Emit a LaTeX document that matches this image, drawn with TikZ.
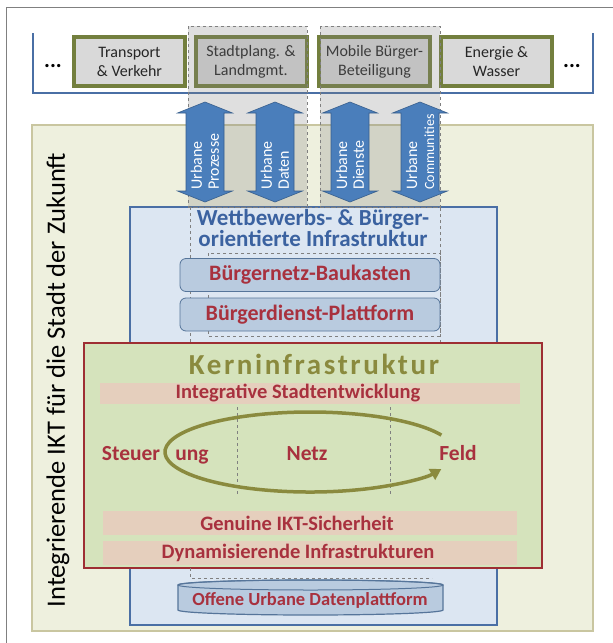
\documentclass[tikz,border=0pt]{standalone}
\usepackage{fontspec}
\setmainfont{Carlito}
\usetikzlibrary{arrows.meta,positioning}

\definecolor{frameblue}{HTML}{4A6FA5}
\definecolor{olivebox}{HTML}{737F3E}
\definecolor{boxgray}{HTML}{D9D9D9}
\definecolor{outerbeige}{HTML}{EEF0DE}
\definecolor{beigeline}{HTML}{C9C6A0}
\definecolor{infrablue}{HTML}{DCE6F2}
\definecolor{infratext}{HTML}{3B62A0}
\definecolor{arrowblue}{HTML}{4A7EBB}
\definecolor{kernfill}{HTML}{D5E3BC}
\definecolor{kernred}{HTML}{9E2E33}
\definecolor{textred}{HTML}{A8313E}
\definecolor{kernolive}{HTML}{8A8A3E}
\definecolor{bandpink}{HTML}{EBC9BE}
\definecolor{platblue}{HTML}{B9CBDF}
\definecolor{platline}{HTML}{56759A}

\tikzset{
  domainbox/.style={draw=olivebox,line width=4pt,fill=boxgray,minimum width=111pt,
    minimum height=49pt,align=center,font=\fontsize{16}{19}\selectfont,text=black!85},
  column/.style={draw=gray,dashed,fill=gray,fill opacity=0.25},
  urbanarrow/.style={fill=arrowblue,draw=arrowblue!75!black,line width=0.6pt},
  urbanlabel/.style={rotate=90,anchor=west,align=left,text=white,inner sep=0pt,
    font=\fontsize{16}{17}\selectfont},
  servicebox/.style={draw=platline,fill=platblue,rounded corners=6pt,thick,
    minimum width=260pt,minimum height=33pt,text=textred,
    font=\bfseries\fontsize{22}{24}\selectfont},
  band/.style={fill=bandpink,fill opacity=0.75,draw=none},
  redlabel/.style={text=textred,font=\bfseries\fontsize{20.5}{22}\selectfont},
  loopword/.style={anchor=base,text=textred,font=\bfseries\fontsize{21.5}{24}\selectfont}
}

\begin{document}
\begin{tikzpicture}[x=1pt,y=-1pt]
  \useasboundingbox[fill=white] (0,0) rectangle (613,643);
  %% Frame
  \draw[gray,line width=1pt] (6,643) -- (6,7) -- (613,7);
  %% Domains
  \draw[frameblue,line width=2pt] (33,33) -- (33,93) -- (593,93) -- (593,33);
  \node[font=\bfseries\fontsize{22}{22}\selectfont] (dotsl) at (53,66) {...};
  \node[font=\bfseries\fontsize{22}{22}\selectfont] (dotsr) at (572,66) {...};
  \node[domainbox] (transport) at (129.5,61.5) {Transport\\\& Verkehr};
  \node[domainbox] (stadtplan) at (251,61.5) {Stadtplang. \&\\Landmgmt.};
  \node[domainbox] (buerger) at (374.5,61.5) {Mobile Bürger-\\Beteiligung};
  \node[domainbox] (energie) at (496.5,61.5) {Energie \&\\Wasser};

  %% IKT
  \draw[fill=outerbeige,draw=beigeline,line width=1.5pt] (32,125) rectangle (593,631);
  \node[rotate=90,font=\fontsize{26.5}{28}\selectfont] (ikt) at (58,380)
    {Integrierende IKT für die Stadt der Zukunft};
  \draw[fill=infrablue,draw=frameblue,line width=1.2pt] (130,207) rectangle (497,625);

  %% Columns
  \draw[column] (188,26) rectangle (307,207);
  \draw[column] (320,26) rectangle (440,207);
  \draw[gray,dashed] (190,207) rectangle (440,342);
  \draw[gray,dashed] (208,253) rectangle (440,336);

  %% Urban arrows
  \foreach \name/\xpos/\txt in {prozesse/205/{Urbane\\Prozesse},daten/275/{Urbane\\Daten},
      dienste/350/{Urbane\\Dienste},communities/420/{Urbane\\{\fontsize{14}{17}\selectfont Communities}}}{
    \draw[urbanarrow] (\xpos,102) -- ++(27.5,11) -- ++(-8.5,0) -- ++(0,78) -- ++(8.5,0)
      -- ++(-27.5,11) -- ++(-27.5,-11) -- ++(8.5,0) -- ++(0,-78) -- ++(-8.5,0) -- cycle;
    \node[urbanlabel] (\name) at (\xpos,190) {\txt};
  }

  %% Infrastruktur
  \node[align=center,text=infratext,font=\bfseries\fontsize{23}{21}\selectfont] (wettbewerb) at (313,228)
    {Wettbewerbs- \& Bürger-\\orientierte Infrastruktur};
  \node[servicebox] (baukasten) at (310,275) {Bürgernetz-Baukasten};
  \node[servicebox] (plattform) at (310,314.5) {Bürgerdienst-Plattform};

  %% Kerninfrastruktur
  \draw[fill=kernfill,draw=kernred,line width=2.5pt] (84,343) rectangle (542,568);
  \node[text=kernolive,font=\bfseries\fontsize{29}{32}\selectfont\addfontfeature{LetterSpace=9}] (kern) at (314,364)
    {Kerninfrastruktur};
  \fill[band] (100,383) rectangle (520,404);
  \fill[band] (103,511) rectangle (517,535);
  \fill[band] (103,541) rectangle (517,565);
  \node[redlabel] (integrativ) at (298,393) {Integrative Stadtentwicklung};
  \node[redlabel] (sicherheit) at (297,523) {Genuine IKT-Sicherheit};
  \node[redlabel] (dynamisch) at (298,553) {Dynamisierende Infrastrukturen};
  \draw[gray,dashed] (237,407) -- (237,495);
  \draw[gray,dashed] (390,407) -- (390,495);
  \node[loopword] (steuer) at (131,460) {Steuer};
  \node[loopword] (ung) at (192,460) {ung};
  \node[loopword] (netz) at (307,460) {Netz};
  \node[loopword] (feld) at (458,460) {Feld};
  \draw[kernolive,line width=3.5pt,-{Triangle[length=11pt,width=12pt]}]
    (441.4,435.1) arc[start angle=-25,end angle=-335,x radius=145,y radius=40];

  %% Datenplattform
  \draw[gray,dashed] (190,568) -- (190,578) -- (432,578);
  \draw[fill=platblue,draw=platline,line width=1.2pt]
    (178,585) -- (178,610) arc[start angle=180,end angle=0,x radius=132.5,y radius=5]
    -- (443,585) arc[start angle=0,end angle=-180,x radius=132.5,y radius=5] -- cycle;
  \draw[draw=platline,line width=1pt] (310.5,585) ellipse[x radius=132.5,y radius=5];
  \node[text=textred,font=\bfseries\fontsize{18.5}{20}\selectfont] (datenplattform) at (310,600)
    {Offene Urbane Datenplattform};
\end{tikzpicture}
\end{document}
